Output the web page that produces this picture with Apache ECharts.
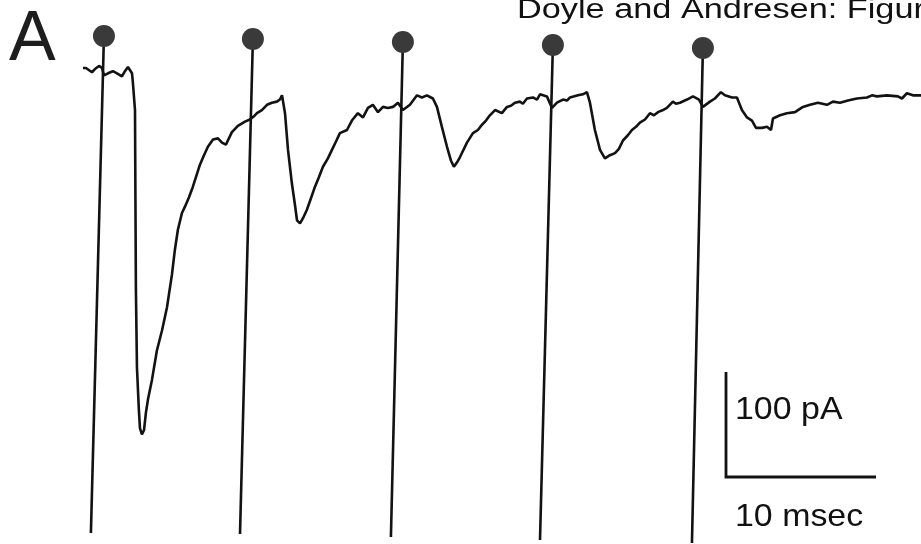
<!DOCTYPE html>
<html>
<head>
<meta charset="utf-8">
<title>Doyle and Andresen</title>
<script src="https://cdn.jsdelivr.net/npm/echarts@6/dist/echarts.min.js"></script>
<style>
  html, body { margin: 0; padding: 0; background: #ffffff; }
  #chart { width: 921px; height: 544px; }
</style>
</head>
<body>
<div id="chart"></div>
<script>
// Whole-cell current during a 5-pulse stimulus train (time in ms, current in pA)
var traceTime = [-1.4,-1.2,-1.07,-0.8,-0.6,-0.33,-0.13,0,0.27,0.6,0.87,1.2,1.4,1.6,1.87,1.93,2.07,2.1,2.13,2.2,
  2.33,2.4,2.53,2.67,2.8,2.93,3.2,3.53,3.87,4.2,4.53,4.73,4.93,5.2,5.4,5.67,5.93,6.4,6.67,6.93,
  7.27,7.6,7.87,8.13,8.33,8.53,8.93,9.4,9.73,10,10.2,10.53,10.87,11.2,11.53,11.73,11.87,12.07,12.27,12.53,
  12.73,12.87,13.07,13.27,13.53,13.8,14.07,14.33,14.6,14.93,15.2,15.47,15.73,16.2,16.53,16.93,17.27,17.6,17.93,18.27,
  18.6,18.93,19.27,19.6,19.93,20.4,20.87,21.2,21.53,21.93,22.2,22.53,22.87,23.13,23.33,23.53,23.73,24.2,24.6,24.93,
  25.2,25.47,25.73,26.07,26.53,26.87,27.13,27.4,27.73,27.93,28.2,28.6,28.87,29.07,29.53,29.87,30.2,30.6,30.87,31.07,
  31.6,31.93,32.2,32.4,32.73,33.07,33.4,33.73,34.07,34.33,34.6,34.93,35.2,35.47,35.73,36.07,36.4,36.67,36.93,37.27,
  37.53,37.93,38.13,38.4,38.87,39.27,39.67,39.93,40.4,40.73,41.13,41.4,41.87,42.2,42.53,42.87,43.2,43.47,43.87,44.2,
  44.47,44.6,45.07,45.53,46.07,46.6,47.07,47.6,48.2,48.6,49.07,49.6,50.2,50.87,51.2,51.53,52.2,52.93,53.2,53.53,
  53.93,54.47];
var traceCurrent = [0,0,1,-4,-1,2,0,-7,-5,-3,-5,-8,-3,1,-5,-14,-40,-126,-211,-285,
  -326,-343,-349,-345,-328,-316,-297,-269,-250,-228,-197,-173,-154,-138,-132,-123,-113,-92,-83,-75,
  -68,-67,-71,-73,-67,-61,-55,-51,-49,-46,-43,-40,-35,-33,-32,-30,-26,-43,-78,-110,
  -130,-145,-148,-143,-135,-124,-113,-104,-94,-86,-78,-70,-62,-59,-50,-43,-47,-38,-35,-42,
  -37,-38,-37,-33,-40,-35,-26,-28,-26,-29,-37,-56,-75,-88,-94,-90,-85,-71,-62,-59,
  -54,-50,-45,-40,-43,-37,-36,-33,-32,-34,-29,-28,-30,-25,-27,-38,-33,-30,-31,-28,
  -26,-25,-23,-33,-59,-78,-86,-83,-81,-77,-69,-64,-59,-56,-52,-49,-43,-45,-42,-40,
  -38,-32,-34,-33,-30,-27,-30,-37,-32,-29,-23,-26,-28,-28,-40,-47,-50,-57,-57,-56,
  -59,-48,-45,-43,-42,-37,-35,-33,-35,-32,-33,-31,-29,-28,-26,-27,-26,-27,-29,-24,
  -26,-26];

// Stimulus artifacts: marker end (top) and far end (bottom) of each artifact
var stimTopTime = [0, 9.93, 19.93, 29.93, 39.93];
var stimTopCurrent = [30.5, 27.6, 24.8, 21.9, 19.0];
var stimBottomTime = [-0.87, 9.07, 19.13, 29.07, 39.2];
var stimBottomCurrent = [-442.9, -443.8, -446.7, -449.5, -452.4];

// Calibration bar: 10 ms by 100 pA, anchored at its corner
var scaleCornerTime = 41.47;
var scaleCornerCurrent = -389.5;
var scaleTimeSpan = 10;
var scaleCurrentSpan = 100;
var scaleLabels = ['100 pA', '10 msec'];

var panelLabel = 'A';
var figureTitle = 'Doyle and Andresen: Figure 3';

var INK = '#121212';
var DOT = '#3a3a3a';
var FONT = '"Liberation Sans", Arial, Helvetica, sans-serif';

var chart = echarts.init(document.getElementById('chart'), null, { renderer: 'canvas' });

var series = [];

series.push({
  type: 'line',
  name: 'current',
  data: traceTime.map(function (t, i) { return [t, traceCurrent[i]]; }),
  showSymbol: false,
  symbol: 'none',
  lineStyle: { color: INK, width: 2.6 },
  z: 3,
  silent: true
});

stimTopTime.forEach(function (t, i) {
  series.push({
    type: 'line',
    name: 'stim' + (i + 1),
    data: [
      { value: [t, stimTopCurrent[i]], symbol: 'circle', symbolSize: 22 },
      { value: [stimBottomTime[i], stimBottomCurrent[i]], symbol: 'none' }
    ],
    showSymbol: true,
    itemStyle: { color: DOT },
    lineStyle: { color: INK, width: 2.6 },
    z: 4,
    silent: true
  });
});

series.push({
  type: 'line',
  name: 'scale',
  data: [
    [scaleCornerTime, scaleCornerCurrent + scaleCurrentSpan],
    [scaleCornerTime, scaleCornerCurrent],
    [scaleCornerTime + scaleTimeSpan, scaleCornerCurrent]
  ],
  symbol: 'none',
  lineStyle: { color: INK, width: 2.8, join: 'miter' },
  z: 2,
  silent: true
});

chart.setOption({
  animation: false,
  backgroundColor: '#ffffff',
  grid: { left: 0, right: 0, top: 0, bottom: 0 },
  xAxis: { type: 'value', min: -6.93, max: 54.47, show: false },
  yAxis: { type: 'value', min: -453.3, max: 64.8, show: false },
  series: series,
  graphic: [
    {
      type: 'text', x: 9, y: 6,
      style: { text: panelLabel, font: '70px ' + FONT, fill: '#1e1e1e' }
    },
    {
      type: 'text', x: 517, y: -2.5, scaleX: 1.27,
      style: { text: figureTitle, font: '27px ' + FONT, fill: '#111111' }
    },
    {
      type: 'text', x: 735, y: 394.5, scaleX: 1.06,
      style: { text: scaleLabels[0], font: '32px ' + FONT, fill: '#111111' }
    },
    {
      type: 'text', x: 735, y: 501.5, scaleX: 1.06,
      style: { text: scaleLabels[1], font: '32px ' + FONT, fill: '#111111' }
    }
  ]
});
</script>
</body>
</html>
